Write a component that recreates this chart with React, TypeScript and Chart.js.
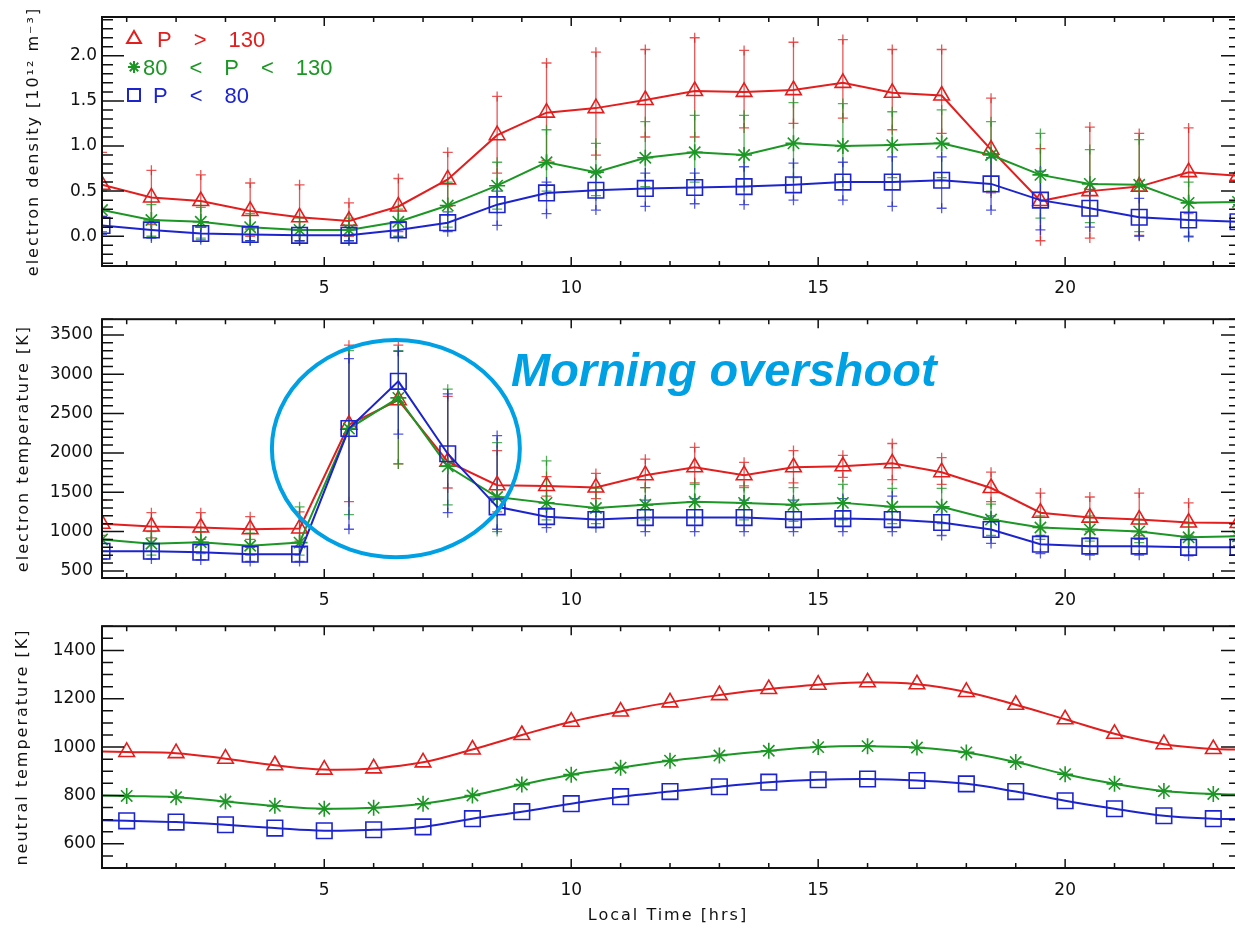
import React, { useEffect, useRef } from 'react';
import { Chart, registerables } from 'chart.js';

Chart.register(...registerables);

// ---------- data ----------
const HALF_HOURS = [0.5, 1.5, 2.5, 3.5, 4.5, 5.5, 6.5, 7.5, 8.5, 9.5, 10.5, 11.5, 12.5, 13.5, 14.5, 15.5, 16.5, 17.5, 18.5, 19.5, 20.5, 21.5, 22.5, 23.5];
const MODEL_HOURS = [0.5, 1, 2, 3, 4, 5, 6, 7, 8, 9, 10, 11, 12, 13, 14, 15, 16, 17, 18, 19, 20, 21, 22, 23, 23.5];

const X_TICKS = [5, 10, 15, 20];
const NE_TICKS = [0, 0.5, 1, 1.5, 2];
const TE_TICKS = [500, 1000, 1500, 2000, 2500, 3000, 3500];
const TN_TICKS = [600, 800, 1000, 1200, 1400];

const SERIES_LABELS = ['P > 130', '80 < P < 130', 'P < 80'];

// electron density [1e12 m^-3]
const NE_HIGH = [0.57, 0.43, 0.39, 0.28, 0.21, 0.17, 0.33, 0.63, 1.12, 1.37, 1.42, 1.51, 1.61, 1.60, 1.62, 1.70, 1.59, 1.56, 0.96, 0.39, 0.50, 0.55, 0.71, 0.67];
const NE_HIGH_UP = [0.93, 0.73, 0.68, 0.59, 0.57, 0.37, 0.64, 0.93, 1.55, 1.92, 2.04, 2.07, 2.20, 2.06, 2.15, 2.18, 2.07, 2.07, 1.53, 0.97, 1.21, 1.14, 1.20, 1.10];
const NE_HIGH_LO = [0.22, 0.13, 0.10, 0.00, -0.05, 0.00, 0.05, 0.33, 0.70, 0.84, 0.90, 1.10, 1.10, 1.20, 1.25, 1.31, 1.18, 1.14, 0.48, -0.05, -0.02, 0.01, 0.25, 0.30];

const NE_MID = [0.29, 0.18, 0.16, 0.10, 0.07, 0.07, 0.16, 0.34, 0.56, 0.82, 0.71, 0.87, 0.93, 0.90, 1.03, 1.00, 1.01, 1.03, 0.90, 0.68, 0.58, 0.57, 0.37, 0.38];
const NE_MID_UP = [0.50, 0.35, 0.32, 0.25, 0.20, 0.20, 0.30, 0.60, 0.82, 1.18, 1.03, 1.27, 1.34, 1.34, 1.48, 1.47, 1.38, 1.40, 1.27, 1.14, 0.96, 1.07, 0.60, 0.60];
const NE_MID_LO = [0.05, 0.00, -0.02, -0.05, -0.05, -0.05, 0.00, 0.10, 0.30, 0.50, 0.45, 0.55, 0.60, 0.55, 0.65, 0.60, 0.65, 0.65, 0.50, 0.20, 0.15, 0.05, -0.01, 0.10];

const NE_LOW = [0.12, 0.07, 0.03, 0.02, 0.01, 0.01, 0.07, 0.15, 0.35, 0.48, 0.51, 0.53, 0.54, 0.55, 0.57, 0.60, 0.60, 0.62, 0.58, 0.40, 0.31, 0.21, 0.18, 0.16];
const NE_LOW_UP = [0.22, 0.15, 0.10, 0.08, 0.07, 0.07, 0.15, 0.27, 0.50, 0.60, 0.70, 0.70, 0.70, 0.77, 0.81, 0.82, 0.88, 0.88, 0.87, 0.72, 0.52, 0.42, 0.38, 0.35];
const NE_LOW_LO = [0.02, -0.02, -0.04, -0.05, -0.05, -0.05, -0.01, 0.05, 0.12, 0.25, 0.29, 0.33, 0.36, 0.35, 0.40, 0.40, 0.33, 0.31, 0.29, 0.07, 0.10, 0.00, 0.00, 0.00];

// electron temperature [K]
const TE_HIGH = [1100, 1065, 1052, 1030, 1040, 2360, 2670, 1890, 1590, 1580, 1560, 1717, 1818, 1717, 1818, 1830, 1868, 1755, 1554, 1240, 1178, 1153, 1115, 1110];
const TE_HIGH_UP = [1400, 1240, 1240, 1190, 1250, 3370, 3370, 2720, 2030, 1700, 1740, 1920, 2070, 1880, 2030, 1970, 2120, 1940, 1755, 1490, 1440, 1490, 1365, 1300];
const TE_HIGH_LO = [950, 920, 900, 900, 880, 1380, 1860, 1554, 1250, 1450, 1420, 1560, 1620, 1580, 1620, 1690, 1660, 1600, 1380, 1050, 1000, 950, 950, 950];

const TE_MID = [900, 845, 865, 820, 860, 2310, 2700, 1830, 1440, 1365, 1300, 1340, 1380, 1365, 1340, 1365, 1315, 1315, 1153, 1052, 1027, 1002, 927, 940];
const TE_MID_UP = [1100, 1000, 1000, 980, 1315, 3300, 3300, 2810, 2130, 1900, 1550, 1560, 1600, 1560, 1560, 1600, 1550, 1550, 1350, 1200, 1200, 1150, 1100, 1050];
const TE_MID_LO = [750, 700, 720, 700, 700, 1215, 1860, 1340, 1000, 1150, 1100, 1150, 1180, 1150, 1130, 1150, 1100, 1100, 950, 900, 880, 860, 800, 820];

const TE_LOW = [750, 750, 738, 713, 713, 2310, 2910, 1990, 1315, 1190, 1153, 1178, 1178, 1178, 1153, 1165, 1153, 1115, 1027, 840, 815, 815, 800, 800];
const TE_LOW_UP = [850, 850, 830, 800, 800, 3200, 3290, 2750, 2220, 1300, 1250, 1400, 1420, 1400, 1400, 1420, 1450, 1300, 1200, 950, 920, 900, 900, 880];
const TE_LOW_LO = [650, 650, 640, 620, 620, 1030, 2240, 1240, 1030, 1050, 1050, 1000, 1000, 1000, 1000, 1000, 1000, 950, 850, 720, 700, 700, 690, 700];

// neutral temperature [K]
const TN_HIGH = [982, 980, 975, 952, 925, 907, 912, 937, 990, 1050, 1105, 1147, 1185, 1215, 1240, 1258, 1268, 1260, 1228, 1175, 1115, 1055, 1012, 992, 990];
const TN_MID = [800, 798, 793, 775, 757, 745, 749, 766, 800, 845, 886, 915, 944, 965, 985, 1000, 1004, 998, 978, 938, 888, 848, 818, 806, 804];
const TN_LOW = [697, 695, 690, 679, 665, 654, 658, 670, 704, 733, 766, 795, 816, 836, 855, 865, 868, 862, 848, 816, 778, 745, 716, 704, 703];

// ---------- styles ----------
const COLORS = ['rgb(226,30,30)', 'rgb(28,150,36)', 'rgb(28,36,205)'];
const ERR_COLORS = ['rgba(226,30,30,0.75)', 'rgba(28,150,36,0.75)', 'rgba(28,36,205,0.75)'];
const MARKERS = ['triangle', 'star', 'rect'];
const MARKER_R = [9, 8, 11];
const ANNOT_COLOR = 'rgb(0,160,228)';
const TICK_FONT = { family: '"DejaVu Sans", sans-serif', size: 17 };
const TITLE_FONT = '16px "DejaVu Sans", sans-serif';

function pts(xs: number[], ys: number[]) {
  return xs.map((x, i) => ({ x, y: ys[i] }));
}
function errPts(xs: number[], lo: number[], hi: number[]) {
  const out: any[] = [];
  xs.forEach((x, i) => {
    out.push({ x, y: lo[i] }, { x, y: hi[i] }, { x, y: null });
  });
  return out;
}

function framePlugin(minor: number, major: number) {
  return {
    id: 'idlFrame',
    afterDatasetsDraw(chart: any) {
      const { ctx, chartArea: a, scales } = chart;
      const xs = scales.x;
      const ys = scales.y;
      ctx.save();
      ctx.strokeStyle = '#111';
      ctx.lineWidth = 1.5;
      ctx.beginPath();
      for (let v = 1; v <= 23; v++) {
        const px = xs.getPixelForValue(v);
        const len = v % 5 === 0 ? 9 : 5;
        ctx.moveTo(px, a.bottom);
        ctx.lineTo(px, a.bottom - len);
        ctx.moveTo(px, a.top);
        ctx.lineTo(px, a.top + len);
      }
      const n0 = Math.ceil(ys.min / minor - 1e-9);
      const n1 = Math.floor(ys.max / minor + 1e-9);
      for (let k = n0; k <= n1; k++) {
        const v = k * minor;
        const isMajor = Math.abs(v / major - Math.round(v / major)) < 1e-6;
        const py = ys.getPixelForValue(v);
        ctx.moveTo(a.left, py);
        ctx.lineTo(a.left + (isMajor ? 22 : 11), py);
        ctx.moveTo(a.right, py);
        ctx.lineTo(a.right - (isMajor ? 17 : 9), py);
      }
      ctx.stroke();
      ctx.lineWidth = 2;
      ctx.strokeRect(a.left, a.top, a.right - a.left, a.bottom - a.top);
      ctx.restore();
    },
  };
}

function titlePlugin(yTitle: string, yTitleX: number, xTitle?: string, xTitleY?: number) {
  return {
    id: 'idlTitles',
    afterDraw(chart: any) {
      const { ctx, chartArea: a } = chart;
      ctx.save();
      ctx.fillStyle = '#111';
      ctx.font = TITLE_FONT;
      (ctx as any).letterSpacing = '2px';
      ctx.textAlign = 'center';
      ctx.textBaseline = 'middle';
      ctx.save();
      ctx.translate(yTitleX, (a.top + a.bottom) / 2);
      ctx.rotate(-Math.PI / 2);
      ctx.fillText(yTitle, 0, 0);
      ctx.restore();
      if (xTitle) {
        ctx.fillText(xTitle, (a.left + a.right) / 2 - 2, xTitleY);
      }
      ctx.restore();
    },
  };
}

function drawMarker(ctx: CanvasRenderingContext2D, kind: string, x: number, y: number, r: number) {
  ctx.beginPath();
  if (kind === 'triangle') {
    ctx.moveTo(x, y - r);
    ctx.lineTo(x + r * 0.866, y + r * 0.5);
    ctx.lineTo(x - r * 0.866, y + r * 0.5);
    ctx.closePath();
  } else if (kind === 'star') {
    for (let k = 0; k < 4; k++) {
      const ang = (k * Math.PI) / 4;
      ctx.moveTo(x - Math.cos(ang) * r, y - Math.sin(ang) * r);
      ctx.lineTo(x + Math.cos(ang) * r, y + Math.sin(ang) * r);
    }
  } else {
    ctx.rect(x - r, y - r, 2 * r, 2 * r);
  }
  ctx.stroke();
}

const legendPlugin = {
  id: 'idlLegend',
  afterDraw(chart: any) {
    const { ctx, chartArea: a } = chart;
    const rows = [
      { base: a.top + 30, textX: a.left + 55 },
      { base: a.top + 58, textX: a.left + 41 },
      { base: a.top + 86, textX: a.left + 51 },
    ];
    const markerR = [8, 6, 6];
    ctx.save();
    ctx.font = '22px "Liberation Sans", Arial, sans-serif';
    ctx.textBaseline = 'alphabetic';
    ctx.textAlign = 'left';
    SERIES_LABELS.forEach((label, k) => {
      const row = rows[k];
      ctx.strokeStyle = COLORS[k];
      ctx.fillStyle = COLORS[k];
      ctx.lineWidth = 2;
      drawMarker(ctx, MARKERS[k], a.left + 32, row.base - 8, markerR[k]);
      let x = row.textX;
      label.split(' ').forEach((tok) => {
        ctx.fillText(tok, x, row.base);
        x += ctx.measureText(tok).width + 22;
      });
    });
    ctx.restore();
  },
};

const annotationPlugin = {
  id: 'overshoot',
  afterDatasetsDraw(chart: any) {
    const { ctx, scales, chartArea: a } = chart;
    const xs = scales.x;
    const ys = scales.y;
    const cx = xs.getPixelForValue(6.45);
    const cy = ys.getPixelForValue(2055);
    const rx = Math.abs(xs.getPixelForValue(6.45 + 2.51) - cx);
    const ry = Math.abs(ys.getPixelForValue(2055 + 1380) - cy);
    ctx.save();
    ctx.strokeStyle = ANNOT_COLOR;
    ctx.lineWidth = 4;
    ctx.beginPath();
    ctx.ellipse(cx, cy, rx, ry, 0, 0, Math.PI * 2);
    ctx.stroke();
    ctx.fillStyle = ANNOT_COLOR;
    ctx.font = 'italic bold 47px "Liberation Sans", Arial, sans-serif';
    ctx.textAlign = 'left';
    ctx.textBaseline = 'alphabetic';
    ctx.fillText('Morning overshoot', a.left + 409, a.top + 67);
    ctx.restore();
  },
};

type Group = { values: number[]; up?: number[]; lo?: number[] };

function makeConfig(opts: {
  xs: number[];
  groups: Group[];
  yMin: number;
  yMax: number;
  yTicks: number[];
  fmt: (v: number) => string;
  yPad: number;
  padTop: number;
  xHeight: number;
  smooth: boolean;
  plugins: any[];
}) {
  const datasets: any[] = [];
  opts.groups.forEach((g, k) => {
    const r = MARKER_R[k];
    datasets.push({
      type: 'line',
      label: SERIES_LABELS[k],
      data: pts(opts.xs, g.values),
      borderColor: COLORS[k],
      borderWidth: 2,
      pointStyle: MARKERS[k],
      pointRadius: opts.smooth
        ? (c: any) => {
            const raw = c.raw;
            return raw && Number.isInteger(raw.x) ? r : 0;
          }
        : r,
      pointBorderWidth: 1.6,
      pointBorderColor: COLORS[k],
      pointBackgroundColor: 'rgba(0,0,0,0)',
      tension: opts.smooth ? 0.4 : 0,
      order: 2 - k,
    });
    if (g.up && g.lo) {
      datasets.push({
        type: 'line',
        label: SERIES_LABELS[k] + ' range',
        data: errPts(opts.xs, g.lo, g.up),
        borderColor: ERR_COLORS[k],
        borderWidth: 1.3,
        pointStyle: 'cross',
        pointRadius: 5,
        pointBorderWidth: 1.3,
        pointBorderColor: ERR_COLORS[k],
        spanGaps: false,
        tension: 0,
        order: 10 - k,
      });
    }
  });
  return {
    type: 'line',
    data: { datasets },
    options: {
      responsive: false,
      animation: false,
      events: [],
      layout: { autoPadding: false, padding: { top: opts.padTop, left: 0, right: 2, bottom: 0 } },
      plugins: { legend: { display: false }, tooltip: { enabled: false } },
      scales: {
        x: {
          type: 'linear',
          min: 0.5,
          max: 23.5,
          grid: { display: false, drawTicks: false },
          border: { display: false },
          afterBuildTicks: (s: any) => {
            s.ticks = X_TICKS.map((v) => ({ value: v }));
          },
          ticks: { font: TICK_FONT, color: '#111', padding: 12, maxRotation: 0, autoSkip: false },
          afterFit: (s: any) => {
            s.height = opts.xHeight;
          },
        },
        y: {
          type: 'linear',
          min: opts.yMin,
          max: opts.yMax,
          grid: { display: false, drawTicks: false },
          border: { display: false },
          afterBuildTicks: (s: any) => {
            s.ticks = opts.yTicks.map((v) => ({ value: v }));
          },
          ticks: {
            font: TICK_FONT,
            color: '#111',
            padding: opts.yPad,
            autoSkip: false,
            callback: (v: any) => opts.fmt(Number(v)),
          },
          afterFit: (s: any) => {
            s.width = 102;
          },
        },
      },
    },
    plugins: opts.plugins,
  };
}

export default function App() {
  const ref1 = useRef<HTMLCanvasElement>(null);
  const ref2 = useRef<HTMLCanvasElement>(null);
  const ref3 = useRef<HTMLCanvasElement>(null);

  useEffect(() => {
    const charts: Chart[] = [];
    charts.push(
      new Chart(
        ref1.current as HTMLCanvasElement,
        makeConfig({
          xs: HALF_HOURS,
          groups: [
            { values: NE_HIGH, up: NE_HIGH_UP, lo: NE_HIGH_LO },
            { values: NE_MID, up: NE_MID_UP, lo: NE_MID_LO },
            { values: NE_LOW, up: NE_LOW_UP, lo: NE_LOW_LO },
          ],
          yMin: -0.33,
          yMax: 2.43,
          yTicks: NE_TICKS,
          fmt: (v) => v.toFixed(1),
          yPad: 5,
          padTop: 17,
          xHeight: 34,
          smooth: false,
          plugins: [framePlugin(0.1, 0.5), titlePlugin('electron density [10¹² m⁻³]', 34), legendPlugin],
        }) as any
      )
    );
    charts.push(
      new Chart(
        ref2.current as HTMLCanvasElement,
        makeConfig({
          xs: HALF_HOURS,
          groups: [
            { values: TE_HIGH, up: TE_HIGH_UP, lo: TE_HIGH_LO },
            { values: TE_MID, up: TE_MID_UP, lo: TE_MID_LO },
            { values: TE_LOW, up: TE_LOW_UP, lo: TE_LOW_LO },
          ],
          yMin: 410,
          yMax: 3700,
          yTicks: TE_TICKS,
          fmt: (v) => String(v),
          yPad: 9,
          padTop: 17,
          xHeight: 32,
          smooth: false,
          plugins: [framePlugin(100, 500), titlePlugin('electron temperature [K]', 24), annotationPlugin],
        }) as any
      )
    );
    charts.push(
      new Chart(
        ref3.current as HTMLCanvasElement,
        makeConfig({
          xs: MODEL_HOURS,
          groups: [{ values: TN_HIGH }, { values: TN_MID }, { values: TN_LOW }],
          yMin: 500,
          yMax: 1500,
          yTicks: TN_TICKS,
          fmt: (v) => String(v),
          yPad: 6,
          padTop: 16,
          xHeight: 60,
          smooth: true,
          plugins: [framePlugin(50, 200), titlePlugin('neutral temperature [K]', 23, 'Local Time [hrs]', 306)],
        }) as any
      )
    );
    return () => charts.forEach((c) => c.destroy());
  }, []);

  return (
    <div style={{ position: 'absolute', left: 0, top: 0, width: 1235, height: 928, overflow: 'hidden', background: '#fff' }}>
      <canvas ref={ref1} width={1240} height={300} style={{ position: 'absolute', left: 0, top: 0 }} />
      <canvas ref={ref2} width={1240} height={310} style={{ position: 'absolute', left: 0, top: 300 }} />
      <canvas ref={ref3} width={1240} height={318} style={{ position: 'absolute', left: 0, top: 610 }} />
    </div>
  );
}
